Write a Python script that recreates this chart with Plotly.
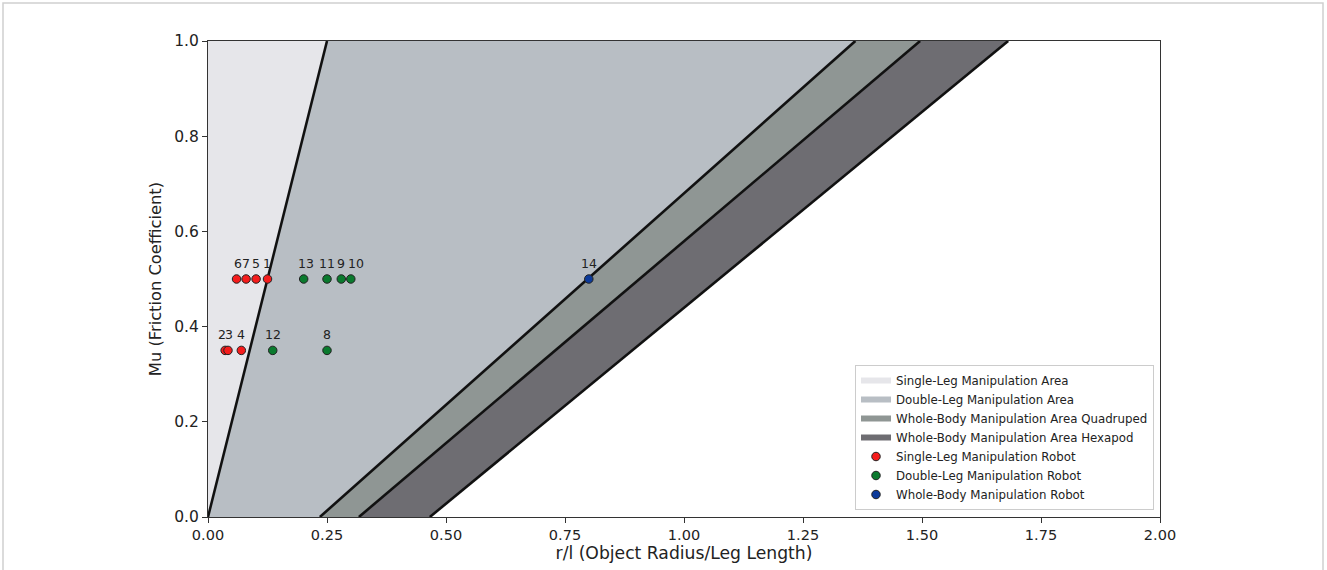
import plotly.graph_objects as go

# ---- data ----
mu_ends = [0.0, 1.0]
# x (r/l) of each boundary line at mu=0 and mu=1
boundary_names = ["single", "double", "quad", "hex"]
boundary_x_mu0 = [0.0, 0.235, 0.317, 0.466]
boundary_x_mu1 = [0.25, 1.36, 1.496, 1.681]

area_names = ["Single-Leg Manipulation Area", "Double-Leg Manipulation Area",
              "Whole-Body Manipulation Area Quadruped", "Whole-Body Manipulation Area Hexapod"]
area_colors = ["#e6e6ea", "#b8bec4", "#8f9694", "#6e6d72"]

single_ids = ["1", "2", "3", "4", "5", "6", "7"]
single_x = [0.125, 0.036, 0.042, 0.070, 0.101, 0.060, 0.080]
single_mu = [0.5, 0.35, 0.35, 0.35, 0.5, 0.5, 0.5]

double_ids = ["8", "9", "10", "11", "12", "13"]
double_x = [0.25, 0.28, 0.30, 0.25, 0.136, 0.201]
double_mu = [0.35, 0.5, 0.5, 0.5, 0.35, 0.5]

whole_ids = ["14"]
whole_x = [0.80]
whole_mu = [0.5]

x_ticks = [0, 0.25, 0.5, 0.75, 1.0, 1.25, 1.5, 1.75, 2.0]
y_ticks = [0, 0.2, 0.4, 0.6, 0.8, 1.0]

# label horizontal nudges (pixels), style only
label_xshift = {"2": -3, "3": 1, "1": -1, "6": 1, "13": 2, "10": 5}

FONT = "DejaVu Sans"
fig = go.Figure()

# ---- areas ----
for i, (name, col) in enumerate(zip(area_names, area_colors)):
    if i == 0:
        xs = [0.0, boundary_x_mu1[0], 0.0, 0.0]
        ys = [mu_ends[0], mu_ends[1], mu_ends[1], mu_ends[0]]
    else:
        xs = [boundary_x_mu0[i - 1], boundary_x_mu0[i], boundary_x_mu1[i], boundary_x_mu1[i - 1], boundary_x_mu0[i - 1]]
        ys = [mu_ends[0], mu_ends[0], mu_ends[1], mu_ends[1], mu_ends[0]]
    fig.add_trace(go.Scatter(x=xs, y=ys, fill="toself", fillcolor=col, mode="none",
                             name=name, hoverinfo="skip"))

# ---- boundary lines ----
for i in range(len(boundary_names)):
    fig.add_trace(go.Scatter(x=[boundary_x_mu0[i], boundary_x_mu1[i]], y=mu_ends, mode="lines",
                             line=dict(color="#111111", width=2.6), showlegend=False, hoverinfo="skip"))

# ---- robots ----
annotations = []
for name, col, xs, ys, ids in [
    ("Single-Leg Manipulation Robot", "#f51c1c", single_x, single_mu, single_ids),
    ("Double-Leg Manipulation Robot", "#0a7a2e", double_x, double_mu, double_ids),
    ("Whole-Body Manipulation Robot", "#0c3a9a", whole_x, whole_mu, whole_ids),
]:
    fig.add_trace(go.Scatter(x=xs, y=ys, mode="markers", name=name, text=ids,
                             marker=dict(size=8.5, color=col, line=dict(color="#222222", width=1))))
    for xv, yv, t in zip(xs, ys, ids):
        annotations.append(dict(x=xv, y=yv, xref="x", yref="y", text=t, showarrow=False,
                                xanchor="center", yanchor="bottom", yshift=6,
                                xshift=label_xshift.get(t, 0),
                                font=dict(family=FONT, size=12.5, color="#222222")))

fig.update_layout(
    width=1327, height=570,
    margin=dict(l=208, r=167, t=41, b=53),
    paper_bgcolor="white", plot_bgcolor="white",
    font=dict(family=FONT, size=14.5, color="#222222"),
    showlegend=True,
    annotations=annotations,
    legend=dict(x=0.9937, y=0.0147, xanchor="right", yanchor="bottom",
                bgcolor="rgba(255,255,255,0.9)", bordercolor="#cccccc", borderwidth=1,
                font=dict(family=FONT, size=11.8, color="#222222"), tracegroupgap=0),
    xaxis=dict(range=[0, 2], tickvals=x_ticks, ticktext=[f"{v:.2f}" for v in x_ticks],
               showgrid=False, zeroline=False, showline=True, linecolor="#333333", linewidth=1,
               mirror=True, ticks="outside", ticklen=5, tickcolor="#333333",
               title=dict(text="r/l (Object Radius/Leg Length)", font=dict(size=17.2), standoff=3)),
    yaxis=dict(range=[0, 1], tickvals=y_ticks, ticktext=[f"{v:.1f}" for v in y_ticks],
               tickfont=dict(size=15.5),
               showgrid=False, zeroline=False, showline=True, linecolor="#333333", linewidth=1,
               mirror=True, ticks="outside", ticklen=5, tickcolor="#333333",
               title=dict(text="Mu (Friction Coefficient)", font=dict(size=16.3), standoff=8)),
    shapes=[dict(type="rect", xref="paper", yref="paper",
                 x0=(3 - 208) / 952, x1=(1323 - 208) / 952,
                 y0=(517 - 575) / 476, y1=(517 - 3) / 476,
                 line=dict(color="#d0d0d0", width=1.5), layer="below")],
)

fig.write_html("out.html", config={"displayModeBar": False},
               post_script="document.body.style.margin='0px';")
